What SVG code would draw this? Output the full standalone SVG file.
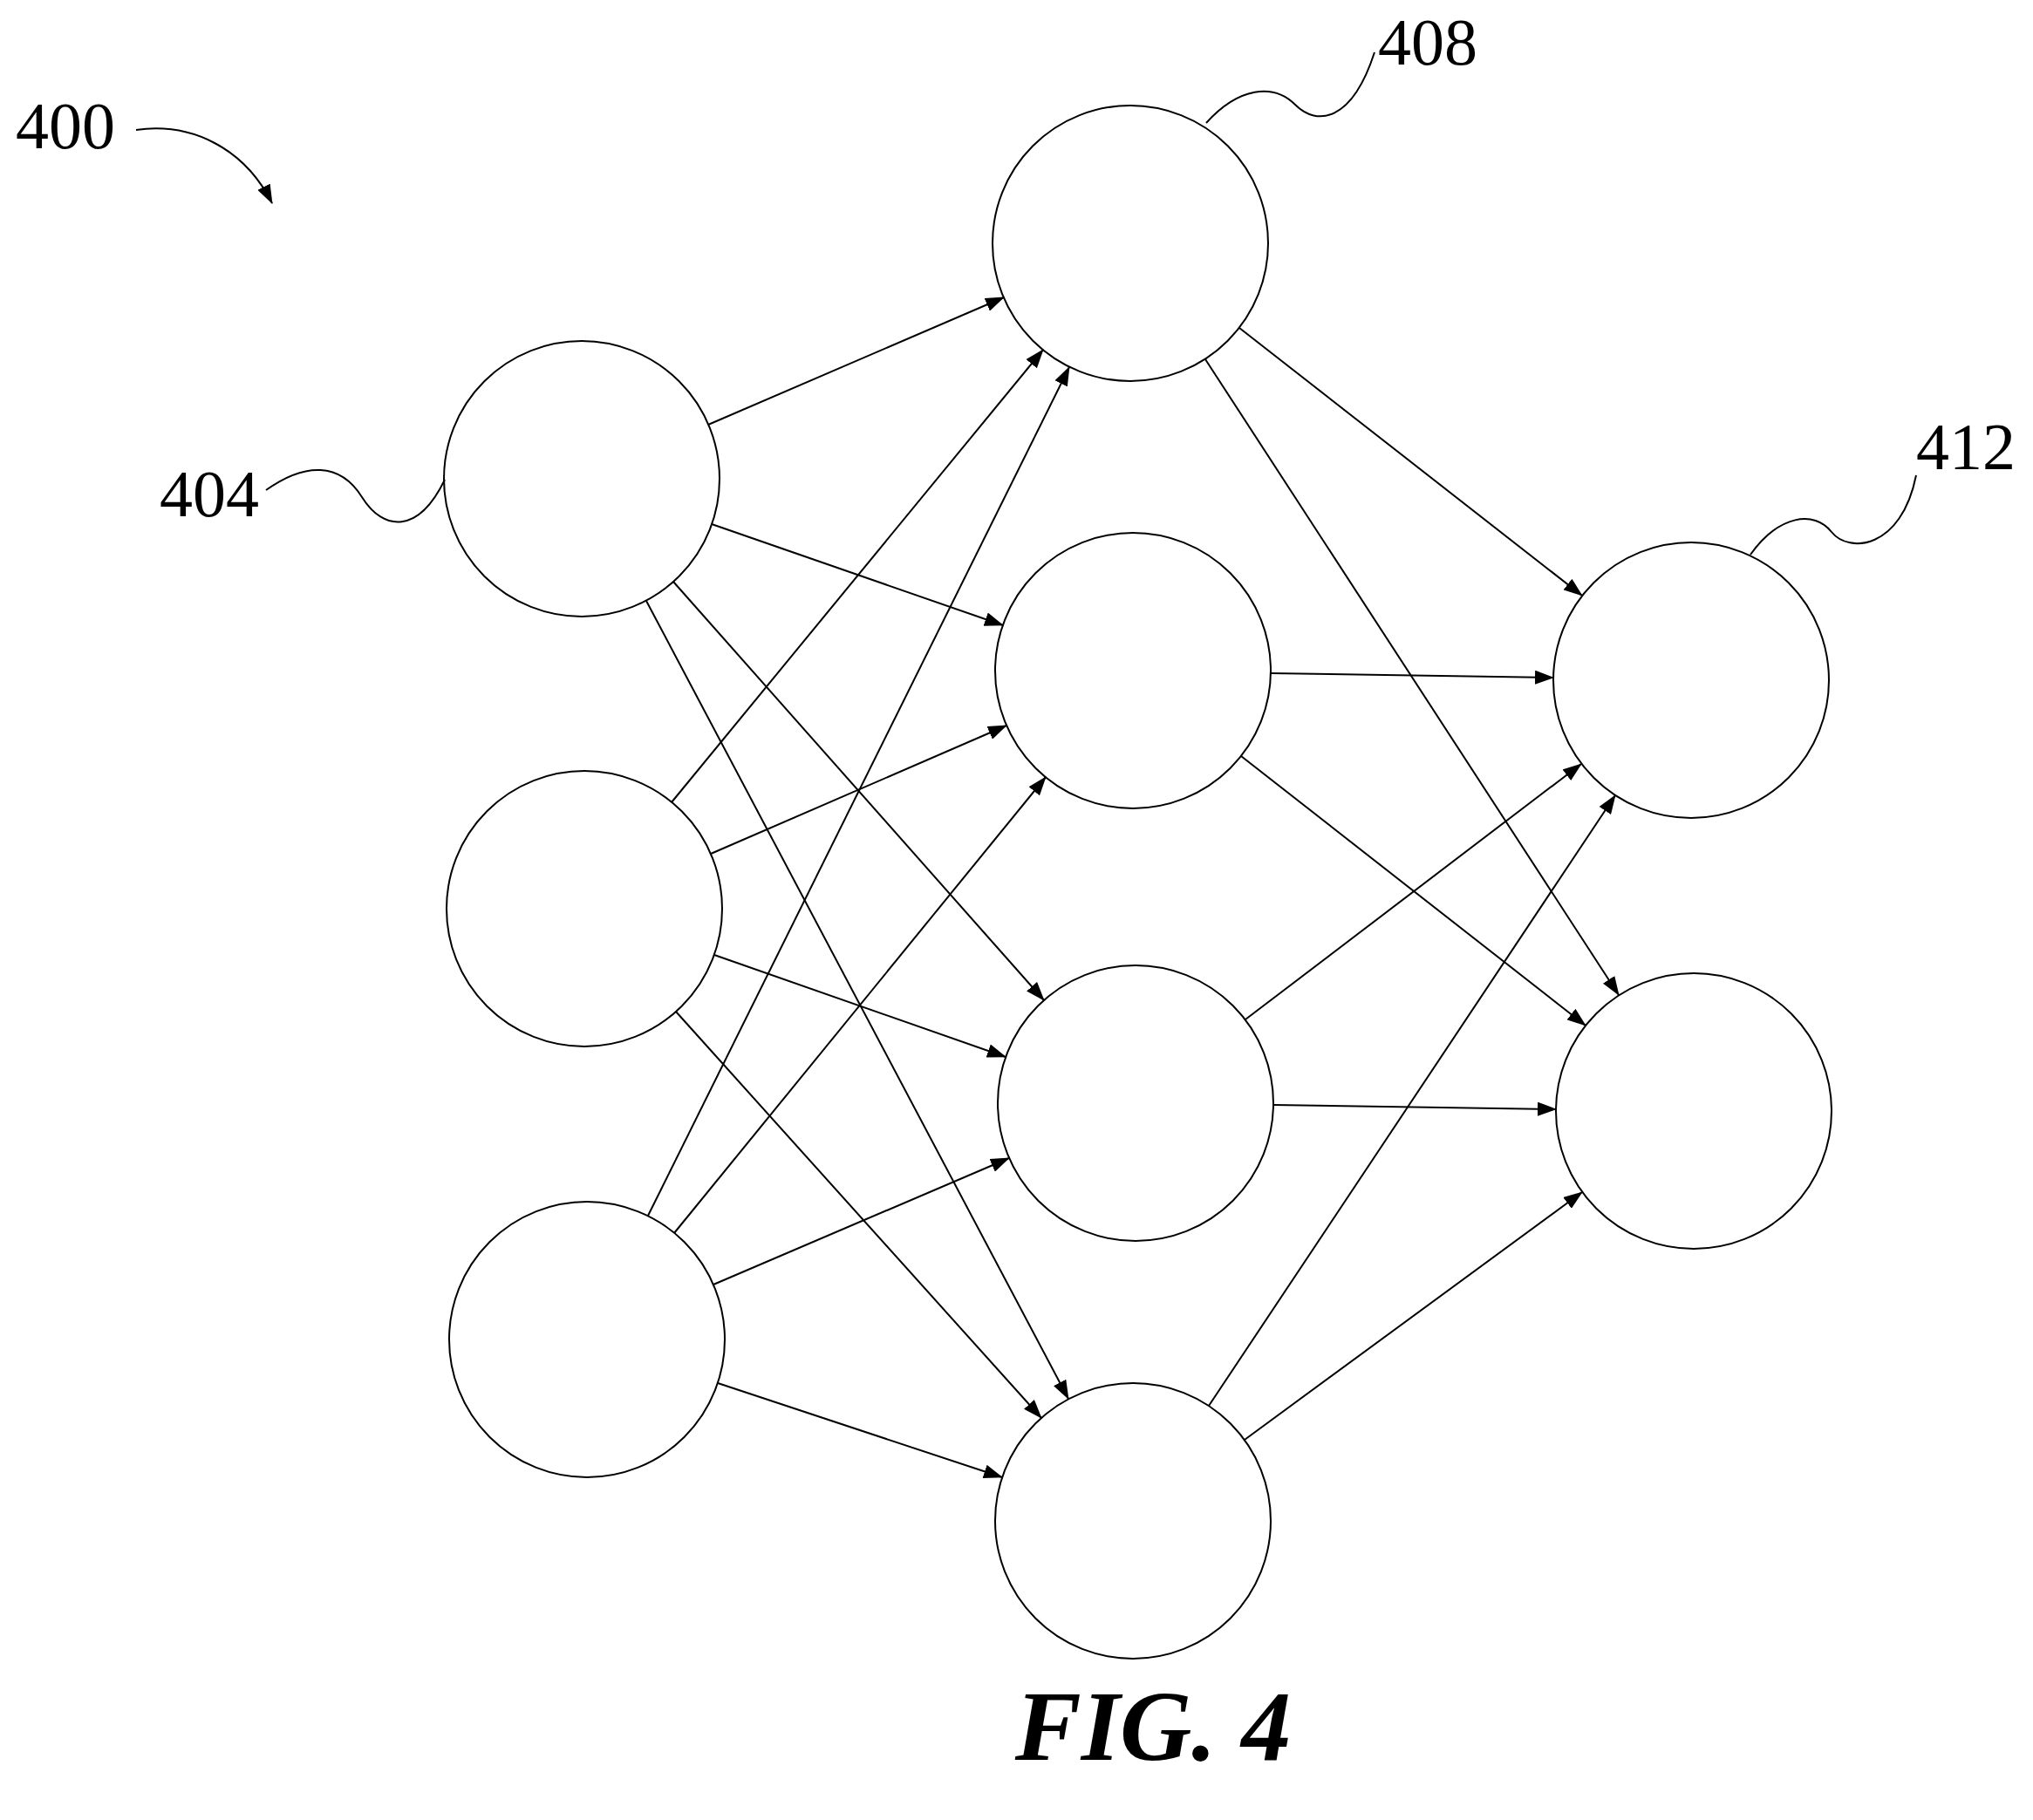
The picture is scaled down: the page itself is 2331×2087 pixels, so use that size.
<svg xmlns="http://www.w3.org/2000/svg" width="2331" height="2087" viewBox="0 0 2331 2087">
<style>
.n{fill:#fff;stroke:#000;stroke-width:2}
.e{stroke:#000;stroke-width:2;fill:none;marker-end:url(#a)}
.l{stroke:#000;stroke-width:2;fill:none}
.t{font-family:"Liberation Serif",serif;font-size:76px}
</style>
<defs><marker id="a" markerWidth="22" markerHeight="16" refX="21" refY="8" orient="auto" markerUnits="userSpaceOnUse"><path d="M0,0 L22,8 L0,16 Z" fill="#000"/></marker></defs>
<g id="nodes">
<g id="i1"><circle class="n" cx="667" cy="549" r="158"/></g>
<g id="i2"><circle class="n" cx="670" cy="1042" r="158"/></g>
<g id="i3"><circle class="n" cx="673" cy="1536" r="158"/></g>
<g id="h1"><circle class="n" cx="1296" cy="279" r="158"/></g>
<g id="h2"><circle class="n" cx="1299" cy="769" r="158"/></g>
<g id="h3"><circle class="n" cx="1302" cy="1265" r="158"/></g>
<g id="h4"><circle class="n" cx="1299" cy="1744" r="158"/></g>
<g id="o1"><circle class="n" cx="1939" cy="780" r="158"/></g>
<g id="o2"><circle class="n" cx="1942" cy="1274" r="158"/></g>
</g>
<g id="connectors">
<path class="e" d="M812,487 L1151,341"/>
<path class="e" d="M816,601 L1150,717"/>
<path class="e" d="M772,667 L1197,1147"/>
<path class="e" d="M741,689 L1225,1604"/>
<path class="e" d="M770,920 L1196,401"/>
<path class="e" d="M815,979 L1154,832"/>
<path class="e" d="M819,1095 L1153,1212"/>
<path class="e" d="M775,1160 L1194,1626"/>
<path class="e" d="M743,1394 L1226,421"/>
<path class="e" d="M773,1414 L1199,891"/>
<path class="e" d="M818,1473 L1157,1328"/>
<path class="e" d="M823,1586 L1149,1694"/>
<path class="e" d="M1421,376 L1814,683"/>
<path class="e" d="M1382,412 L1856,1141"/>
<path class="e" d="M1457,772 L1781,777"/>
<path class="e" d="M1423,867 L1818,1176"/>
<path class="e" d="M1428,1169 L1813,876"/>
<path class="e" d="M1460,1267 L1784,1272"/>
<path class="e" d="M1386,1612 L1852,912"/>
<path class="e" d="M1427,1651 L1814,1367"/>
</g>
<g id="labels">
<text class="t" x="18" y="170">400</text>
<path class="e" d="M156,149 C220,140 280,170 312,233"/>
<text class="t" x="183" y="592">404</text>
<path class="l" d="M305,562 C350,530 390,530 415,570 C440,610 480,612 510,550"/>
<text class="t" x="1580" y="74">408</text>
<path class="l" d="M1383,141 C1420,100 1460,95 1485,120 C1510,145 1550,140 1576,60"/>
<text class="t" x="2197" y="538">412</text>
<path class="l" d="M2007,636 C2040,590 2080,585 2100,610 C2120,635 2180,630 2197,545"/>
<text x="1322" y="2018" text-anchor="middle" font-family="Liberation Serif,serif" font-size="114" font-weight="bold" font-style="italic">FIG. 4</text>
</g>
</svg>
